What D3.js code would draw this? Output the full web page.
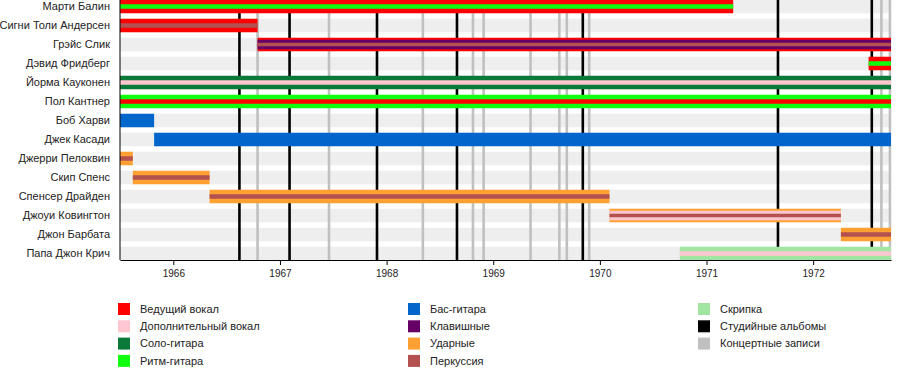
<!DOCTYPE html>
<html>
<head>
<meta charset="utf-8">
<script src="https://cdn.jsdelivr.net/npm/d3@7"></script>
<style>
  body { margin: 0; background: #fff; }
  svg { font-family: "Liberation Sans", Arial, sans-serif; }
</style>
</head>
<body>
<svg id="chart" width="900" height="370"></svg>
<script>
// members, top to bottom
const members = ['Марти Балин', 'Сигни Толи Андерсен', 'Грэйс Слик', 'Дэвид Фридберг',
  'Йорма Кауконен', 'Пол Кантнер', 'Боб Харви', 'Джек Касади', 'Джерри Пелоквин',
  'Скип Спенс', 'Спенсер Драйден', 'Джоуи Ковингтон', 'Джон Барбата', 'Папа Джон Крич'];

// time in fractional years
const periodStart = 1965.5, periodEnd = 1972.73;
const memberStart = [1965.5, 1965.5, 1966.79, 1972.52, 1965.5, 1965.5, 1965.5, 1965.82,
  1965.5, 1965.62, 1966.34, 1970.09, 1972.26, 1970.75];
const memberEnd = [1971.25, 1966.79, 1972.73, 1972.73, 1972.73, 1972.73, 1965.82, 1972.73,
  1965.62, 1966.34, 1970.09, 1972.26, 1972.73, 1972.73];

// roles per member: first = main colour, following = inner stripes
const memberRoles = [
  ['vocals', 'rhythm'], ['vocals', 'perc'], ['vocals', 'keys', 'perc'], ['vocals', 'rhythm'],
  ['lead', 'backing'], ['rhythm', 'vocals'], ['bass'], ['bass'], ['drums', 'perc'],
  ['drums', 'perc'], ['drums', 'perc'], ['drums', 'backing', 'perc'], ['drums', 'perc'],
  ['violin', 'backing']];

const roleKeys = ['vocals', 'backing', 'lead', 'rhythm', 'bass', 'keys', 'drums', 'perc', 'violin', 'studio', 'live'];
const roleLabels = ['Ведущий вокал', 'Дополнительный вокал', 'Соло-гитара', 'Ритм-гитара',
  'Бас-гитара', 'Клавишные', 'Ударные', 'Перкуссия', 'Скрипка', 'Студийные альбомы', 'Концертные записи'];
const roleColors = ['#ff0000', '#ffc6cf', '#0a7a3a', '#10ff10', '#0066cc', '#660066',
  '#ffa033', '#b35050', '#a0e6a0', '#000000', '#c0c0c0'];

const studioAlbums = [1966.62, 1967.09, 1967.91, 1968.66, 1969.84, 1971.67, 1972.55];
const liveAlbums = [1966.79, 1967.46, 1968.34, 1968.81, 1968.91, 1969.35, 1969.62, 1969.69,
  1969.90, 1972.64, 1972.72];

const years = [1966, 1967, 1968, 1969, 1970, 1971, 1972];

/*
Chart
=================
 */
const margin = {top: 0, left: 120, right: 9, axisY: 260},
    width = 900, barH = 13.5;

const color = d3.scaleOrdinal().domain(roleKeys).range(roleColors);

const x = d3.scaleLinear()
    .domain([periodStart, periodEnd])
    .range([margin.left, width - margin.right]);

const y = d3.scalePoint()
    .domain(members)
    .range([6.5, 253.5]);

const svg = d3.select('#chart');

// grey row backgrounds
svg.append('g').selectAll('rect')
    .data(members)
    .enter().append('rect')
    .attr('x', x(periodStart))
    .attr('width', x(periodEnd) - x(periodStart))
    .attr('y', function(d) { return y(d) - barH / 2; })
    .attr('height', barH)
    .attr('fill', '#eeeeee');

// album lines
const albums = studioAlbums.map(function(d) { return {t: d, kind: 'studio'}; })
    .concat(liveAlbums.map(function(d) { return {t: d, kind: 'live'}; }));

svg.append('g').selectAll('line')
    .data(albums)
    .enter().append('line')
    .attr('x1', function(d) { return x(d.t); })
    .attr('x2', function(d) { return x(d.t); })
    .attr('y1', 0)
    .attr('y2', margin.axisY)
    .attr('stroke', function(d) { return color(d.kind); })
    .attr('stroke-width', 2.6);

// member bars, stacked stripes
const stripeH = [barH, 9.5, 3.5];
const bars = svg.append('g').selectAll('g')
    .data(members)
    .enter().append('g');

bars.each(function(name, i) {
  const roles = memberRoles[i];
  const g = d3.select(this);
  roles.forEach(function(r, k) {
    let h = k === 0 ? barH : (roles.length === 2 ? 4.5 : stripeH[k]);
    g.append('rect')
        .attr('x', x(memberStart[i]))
        .attr('width', x(memberEnd[i]) - x(memberStart[i]))
        .attr('y', y(name) - h / 2)
        .attr('height', h)
        .attr('fill', color(r));
  });
});

// axes
svg.append('g')
    .attr('transform', 'translate(0,' + margin.axisY + ')')
    .call(d3.axisBottom(x).tickValues(years).tickFormat(d3.format('d')).tickSize(5).tickSizeOuter(0))
    .call(function(g) {
      g.select('.domain').attr('stroke', '#000');
      g.selectAll('text').attr('font-size', 10).attr('fill', '#222').attr('dy', '0.9em');
      g.selectAll('line').attr('stroke', '#000');
    });

svg.append('line')
    .attr('x1', margin.left).attr('x2', margin.left)
    .attr('y1', 0).attr('y2', margin.axisY)
    .attr('stroke', '#000');

svg.append('g').selectAll('text')
    .data(members)
    .enter().append('text')
    .attr('x', margin.left - 10)
    .attr('y', function(d) { return y(d); })
    .attr('dy', '0.35em')
    .attr('text-anchor', 'end')
    .attr('font-size', 11)
    .attr('fill', '#222')
    .text(function(d) { return d; });

// legend, 3 columns
const legendCols = [118, 408, 698];
const legend = svg.append('g').selectAll('g')
    .data(roleKeys)
    .enter().append('g')
    .attr('transform', function(d, i) {
      const col = Math.min(Math.floor(i / 4), 2);
      const row = i - col * 4;
      return 'translate(' + legendCols[col] + ',' + (303 + row * 17.3) + ')';
    });

legend.append('rect')
    .attr('width', 12)
    .attr('height', 12)
    .attr('fill', function(d) { return color(d); });

legend.append('text')
    .attr('x', 22)
    .attr('y', 6)
    .attr('dy', '0.35em')
    .attr('font-size', 11)
    .attr('fill', '#222')
    .text(function(d, i) { return roleLabels[i]; });
</script>
</body>
</html>
